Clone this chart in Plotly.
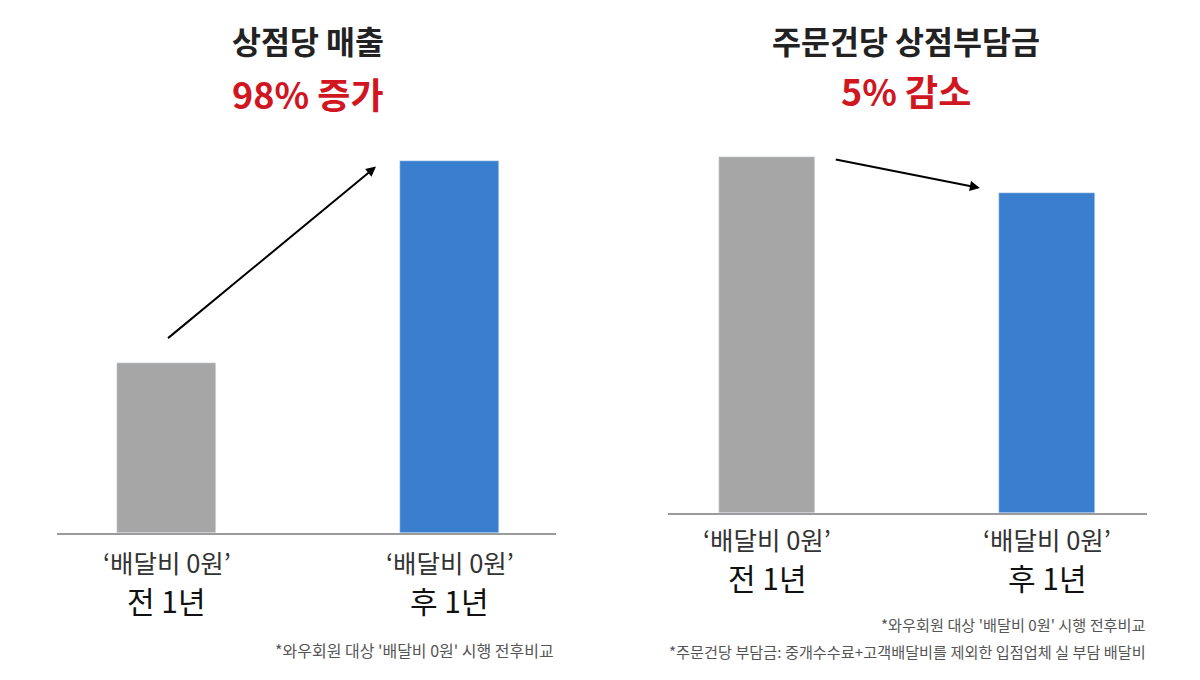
import plotly.graph_objects as go

FONT = "Noto Sans CJK KR"

# chart data (index, before = 100)
cat_top = ["‘배달비 0원’", "‘배달비 0원’"]
cat_bottom = ["전 1년", "후 1년"]
sales_per_store = [100, 219]
fee_per_order = [100, 90]

titles = ["상점당 매출", "주문건당 상점부담금"]
subtitles = ["98% 증가", "5% 감소"]
notes_left = ["*와우회원 대상 '배달비 0원' 시행 전후비교"]
notes_right = [
    "*와우회원 대상 '배달비 0원' 시행 전후비교",
    "*주문건당 부담금: 중개수수료+고객배달비를 제외한 입점업체 실 부담 배달비",
]

GRAY = "#a6a6a6"
BLUE = "#3a7fcf"
RED = "#d0161f"
W, H = 1200, 680


def py(p):
    # pixel row -> paper y
    return 1 - p / H


fig = go.Figure()
fig.add_trace(go.Bar(x=[0, 1], y=sales_per_store, marker_color=[GRAY, BLUE],
                     width=0.35, xaxis="x", yaxis="y", hoverinfo="skip"))
fig.add_trace(go.Bar(x=[0, 1], y=fee_per_order, marker_color=[GRAY, BLUE],
                     width=0.343, xaxis="x2", yaxis="y2", hoverinfo="skip"))

axis_line = dict(showline=True, linecolor="#9b9b9b", linewidth=2, showgrid=False,
                 zeroline=False, showticklabels=False, ticks="", fixedrange=True)

fig.update_layout(
    width=W, height=H,
    margin=dict(l=0, r=0, t=0, b=0),
    paper_bgcolor="white", plot_bgcolor="white",
    showlegend=False,
    bargap=0,
    xaxis=dict(domain=[57 / W, 556 / W], range=[-0.387, 1.376], anchor="y", **axis_line),
    yaxis=dict(domain=[py(533), 1], range=[0, 313.8], visible=False, anchor="x"),
    xaxis2=dict(domain=[668 / W, 1147 / W], range=[-0.354, 1.357], anchor="y2", **axis_line),
    yaxis2=dict(domain=[py(513), 1], range=[0, 144.1], visible=False, anchor="x2"),
)

ann = []
# titles
for cx, t, s, ty, sy in [(308, titles[0], subtitles[0], 40, 93),
                          (906, titles[1], subtitles[1], 40, 90)]:
    ann.append(dict(x=cx / W, y=py(ty), xref="paper", yref="paper", text=t, showarrow=False,
                    xanchor="center", yanchor="middle",
                    font=dict(family=FONT, size=31.5, color="#222222", weight="bold")))
    ann.append(dict(x=cx / W, y=py(sy), xref="paper", yref="paper", text=s, showarrow=False,
                    xanchor="center", yanchor="middle",
                    font=dict(family=FONT, size=36, color=RED, weight="bold")))

# category labels under each bar
for xr, y1, y2 in [("x", 561, 600), ("x2", 538, 577)]:
    for i in range(2):
        ann.append(dict(x=i, y=py(y1), xref=xr, yref="paper", text=cat_top[i], showarrow=False,
                        xanchor="center", yanchor="middle",
                        font=dict(family=FONT, size=25.5, color="#333333")))
        ann.append(dict(x=i, y=py(y2), xref=xr, yref="paper", text=cat_bottom[i], showarrow=False,
                        xanchor="center", yanchor="middle",
                        font=dict(family=FONT, size=30, color="#111111")))

# footnotes
ann.append(dict(x=556 / W, y=py(650), xref="paper", yref="paper", text=notes_left[0],
                showarrow=False, xanchor="right", yanchor="middle",
                font=dict(family=FONT, size=16, color="#555555")))
for note, yp in zip(notes_right, [624, 651]):
    ann.append(dict(x=1148 / W, y=py(yp), xref="paper", yref="paper", text=note,
                    showarrow=False, xanchor="right", yanchor="middle",
                    font=dict(family=FONT, size=15.2, color="#555555")))

# trend arrows from the gray bar towards the blue bar
ann.append(dict(x=0.74, y=sales_per_store[1] * 0.985, ax=0, ay=sales_per_store[0] * 1.14,
                xref="x", yref="y", axref="x", ayref="y", text="", showarrow=True,
                arrowhead=2, arrowsize=1, arrowwidth=2, arrowcolor="black"))
ann.append(dict(x=0.76, y=fee_per_order[1] + 1.3, ax=0.24, ay=fee_per_order[0] - 0.6,
                xref="x2", yref="y2", axref="x2", ayref="y2", text="", showarrow=True,
                arrowhead=2, arrowsize=1, arrowwidth=2, arrowcolor="black"))

fig.update_layout(annotations=ann)
# drop the default 8px page margin so the figure sits at the window's corner
fig.write_html("out.html", config={"displayModeBar": False},
               post_script="document.body.style.margin='0';")
